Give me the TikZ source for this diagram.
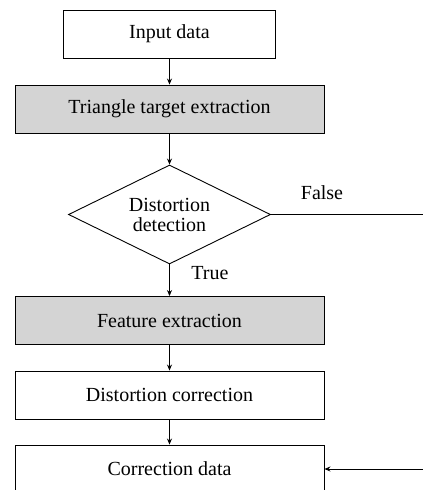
\documentclass[tikz,border=0pt]{standalone}
\usepackage{fontspec}
\setmainfont{Liberation Serif}
\usepackage{tikz}
\usetikzlibrary{shapes.geometric,arrows.meta}

\definecolor{boxgray}{RGB}{212,212,212}

\begin{document}
\begin{tikzpicture}[x=1pt, y=-1pt, line width=0.9pt,
        every node/.style={font=\fontsize{20}{20}\selectfont},
        stepbox/.style={draw, minimum height=48pt, inner sep=0pt},
        widebox/.style={stepbox, minimum width=309pt},
        graybox/.style={widebox, fill=boxgray},
        decision/.style={draw, diamond, shape aspect=2, minimum width=202pt, minimum height=99pt, inner sep=0pt, align=center},
        arr/.style={-{Stealth[length=6pt,width=5pt]}}]
        \useasboundingbox (0, 0) rectangle (423, 490);
        \clip (0, 0) rectangle (423, 490);

        \node[stepbox, minimum width=212pt] (input) at (169.5, 34) {Input data};
        \node[graybox] (triangle) at (169.5, 109) {Triangle target extraction};
        \node[decision] (detect) at (169.5, 214.5) {Distortion\\detection};
        \node[graybox] (feature) at (169.5, 320.5) {Feature extraction};
        \node[widebox] (correct) at (169.5, 395) {Distortion correction};
        \node[widebox] (data) at (169.5, 469) {Correction data};

        \node (false) at (322, 193) {False};
        \node (true) at (210, 273) {True};

        \coordinate (falseend) at (423, 214.5);
        \coordinate (datain) at (423, 469);

        \draw[arr] (input) -- (triangle);
        \draw[arr] (triangle) -- (detect);
        \draw[arr] (detect) -- (feature);
        \draw[arr] (feature) -- (correct);
        \draw[arr] (correct) -- (data);
        \draw (detect.east) -- (falseend);
        \draw[arr] (datain) -- (data.east);
    \end{tikzpicture}
\end{document}
